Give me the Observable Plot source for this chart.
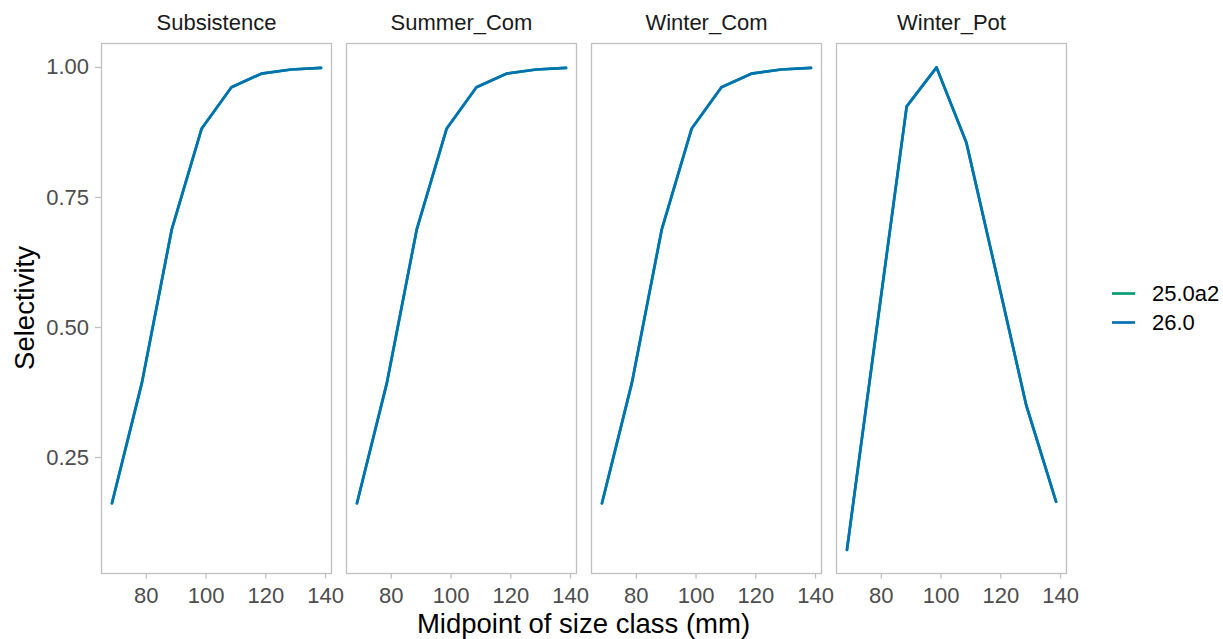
<!DOCTYPE html>
<html><head><meta charset="utf-8">
<script src="https://cdn.jsdelivr.net/npm/d3@7"></script>
<script src="https://cdn.jsdelivr.net/npm/@observablehq/plot@0.6"></script>
<style>
body{margin:0;background:#fff}
#wrap{position:relative;width:1223px;height:639px;font-family:"Liberation Sans",Arial,sans-serif}
#wrap svg{position:absolute;left:0;top:0}
</style>
</head><body><div id="wrap"></div>
<script>
// Data
const fleets = ["Subsistence", "Summer_Com", "Winter_Com", "Winter_Pot"];
const models = ["25.0a2", "26.0"];
const modelColors = ["#009E73", "#0072B2"];
const sizeMid = [68.5, 78.5, 88.5, 98.5, 108.5, 118.5, 128.5, 138.5];
const selSubsistence = [0.162, 0.393, 0.688, 0.882, 0.962, 0.988, 0.996, 0.999];
const selSummerCom  = [0.162, 0.393, 0.688, 0.882, 0.962, 0.988, 0.996, 0.999];
const selWinterCom  = [0.162, 0.393, 0.688, 0.882, 0.962, 0.988, 0.996, 0.999];
const selWinterPot  = [0.0725, 0.50, 0.925, 1.0, 0.855, 0.604, 0.351, 0.165];
const xTicks = [80, 100, 120, 140];
const yTicks = [0.25, 0.50, 0.75, 1.00];
const xTitle = "Midpoint of size class (mm)";
const yTitle = "Selectivity";

// both model versions give identical curves (green hidden under blue)
const selByFleet = [selSubsistence, selSummerCom, selWinterCom, selWinterPot];
const rows = [];
models.forEach(m => fleets.forEach((f, i) => sizeMid.forEach((s, j) =>
  rows.push({model: m, fleet: f, size: s, sel: selByFleet[i][j]}))));

const font = "Liberation Sans, Arial, sans-serif";
const chart = Plot.plot({
  width: 1080, height: 639,
  marginLeft: 101, marginRight: 14, marginTop: 43, marginBottom: 66,
  style: {fontFamily: font, background: "transparent", overflow: "visible"},
  fx: {domain: fleets, paddingInner: 15 / 245, paddingOuter: 0, label: null},
  x: {domain: [65, 142], label: null},
  y: {domain: [0.027, 1.046], label: null},
  color: {domain: models, range: modelColors},
  marks: [
    Plot.frame({stroke: "#c0c0c0", strokeWidth: 1.3}),
    Plot.axisX({ticks: xTicks, tickSize: 5.5, tickPadding: 8, fontSize: 22,
      stroke: "#c0c0c0", strokeWidth: 1.3, fill: "#4d4d4d", label: null}),
    Plot.axisY({ticks: yTicks, tickFormat: d3.format(".2f"), tickSize: 6, tickPadding: 6.5,
      fontSize: 22, stroke: "#c0c0c0", strokeWidth: 1.3, fill: "#4d4d4d", label: null}),
    Plot.axisFx({anchor: "top", tickSize: 0, tickPadding: 14, fontSize: 22,
      fill: "#1a1a1a", label: null}),
    Plot.lineY(rows, {x: "size", y: "sel", fx: "fleet", stroke: "model",
      z: d => d.model, strokeWidth: 2.7})
  ]
});
const wrap = document.getElementById("wrap");
wrap.appendChild(chart);

// titles and legend overlay
const ov = d3.select(wrap).append("svg").attr("width", 1223).attr("height", 639)
  .style("font-family", font);
ov.append("text").attr("x", 583.5).attr("y", 633).attr("text-anchor", "middle")
  .attr("font-size", 27.5).attr("fill", "#000").text(xTitle);
ov.append("text").attr("transform", "translate(34,308) rotate(-90)")
  .attr("text-anchor", "middle").attr("font-size", 27.5).attr("fill", "#000").text(yTitle);
const lg = ov.append("g");
models.forEach((m, i) => {
  const cy = 293.5 + i * 29;
  lg.append("line").attr("x1", 1112).attr("x2", 1135).attr("y1", cy).attr("y2", cy)
    .attr("stroke", modelColors[i]).attr("stroke-width", 2.7);
  lg.append("text").attr("x", 1152).attr("y", cy).attr("dy", "0.36em")
    .attr("font-size", 22).attr("fill", "#000").text(m);
});
</script>
</body></html>
